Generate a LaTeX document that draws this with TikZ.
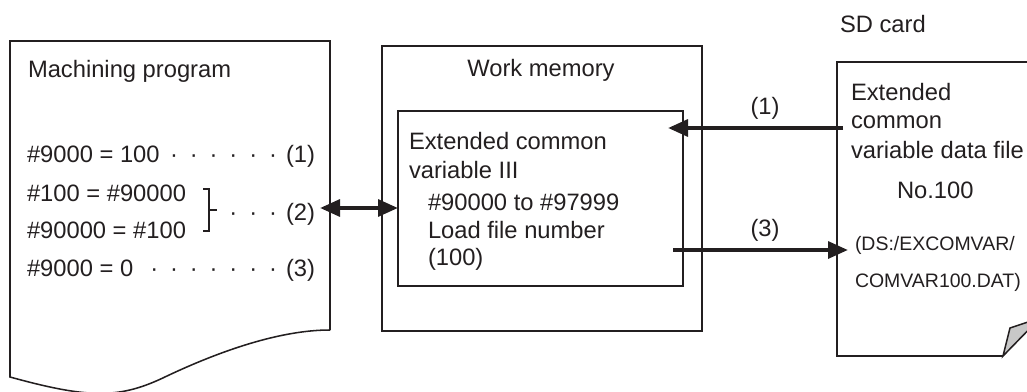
\documentclass[tikz,border=0pt]{standalone}
\usepackage{fontspec}
\setmainfont{Liberation Sans}
\usetikzlibrary{arrows.meta}
\definecolor{ink}{HTML}{231F20}
\definecolor{foldgray}{HTML}{C8C8C8}
\begin{document}
\begin{tikzpicture}[x=0.75pt,y=-0.75pt,
  ln/.style={line width=1.15pt, draw=ink, line join=miter},
  txt/.style={anchor=base west, inner sep=0pt, outer sep=0pt, text=ink, font=\fontsize{17.8}{20}\selectfont},
  ctxt/.style={txt, anchor=base},
  small/.style={txt, font=\fontsize{14.6}{18}\selectfont},
  arr/.style={line width=3.1pt, draw=ink, -{Triangle[length=15pt,width=12.5pt]}},
  darr/.style={line width=3.1pt, draw=ink, {Triangle[length=15pt,width=12.5pt]}-{Triangle[length=15pt,width=12.5pt]}}
]
\useasboundingbox (0,0) rectangle (1027,392);

% ---- Machining program (document shape)
\draw[ln] (330,330) -- (330,41) -- (10,41) -- (10,377)
  .. controls (90,399) and (120,399) .. (167,376)
  .. controls (220,351) and (280,330) .. (330,330);
\node[txt] (mp) at (28,78) {Machining program};
\node[txt] (l1) at (27,162) {\#9000 = 100};
\foreach \i in {0,...,5} \node[ctxt] (d1\i) at ({174+\i*19.8},162) {·};
\node[txt] (n1) at (286,162) {(1)};
\node[txt] (l2) at (27,201) {\#100 = \#90000};
\node[txt] (l3) at (27,238) {\#90000 = \#100};
\draw[line width=0.8pt, draw=ink] (203,189) -- (209,189) -- (209,231) -- (203,231);
\draw[line width=0.8pt, draw=ink] (209,210) -- (217,210);
\foreach \i in {0,...,2} \node[ctxt] (d2\i) at ({233.4+\i*19.8},220) {·};
\node[txt] (n2) at (286,220) {(2)};
\node[txt] (l4) at (27,276) {\#9000 = 0};
\foreach \i in {0,...,6} \node[ctxt] (d3\i) at ({154.2+\i*19.8},276) {·};
\node[txt] (n3) at (286,276) {(3)};

% ---- Work memory
\draw[ln] (382,46) rectangle (702,331);
\draw[ln] (398,111) rectangle (683,286);
\node[ctxt] (wm) at (541,77) {Work memory};
\node[txt] (e1) at (409,150) {Extended common};
\node[txt] (e2) at (409,179) {variable III};
\node[txt] (e3) at (428,210) {\#90000 to \#97999};
\node[txt] (e4) at (428,238) {Load file number};
\node[txt] (e5) at (428,265) {(100)};

% ---- SD card
\node[txt] (sd) at (840,33) {SD card};
\draw[ln] (1003,356) -- (837,356) -- (837,62) -- (1040,62);
\filldraw[ln, fill=foldgray] (1003,356) -- (1010,328) -- (1040,318) -- cycle;
\node[txt] (s1) at (851,101) {Extended};
\node[txt] (s2) at (851,129) {common};
\node[txt] (s3) at (851,158) {variable data file};
\node[txt] (s4) at (897,198) {No.100};
\node[small] (s5) at (855,250) {(DS:/EXCOMVAR/};
\node[small] (s6) at (855,287) {COMVAR100.DAT)};

% ---- connectors
\coordinate (a1s) at (843,128);
\coordinate (a1e) at (668,128);
\draw[arr] (a1s) -- (a1e);
\node[ctxt] (lab1) at (765,115) {(1)};
\coordinate (a3s) at (673,250);
\coordinate (a3e) at (848,250);
\draw[arr] (a3s) -- (a3e);
\node[ctxt] (lab3) at (765,236) {(3)};
\coordinate (a2s) at (320,208);
\coordinate (a2e) at (398,208);
\draw[darr] (a2s) -- (a2e);
\end{tikzpicture}
\end{document}
